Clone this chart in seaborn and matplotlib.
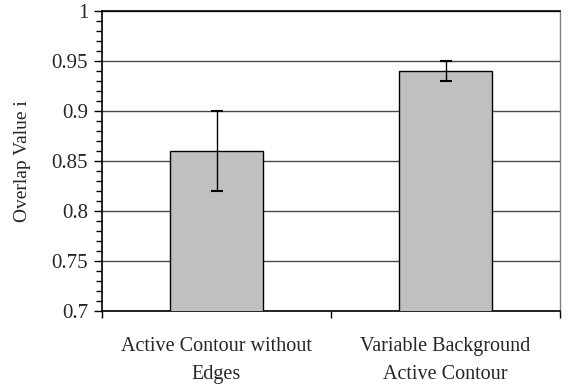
import matplotlib
matplotlib.use("Agg")
import matplotlib.pyplot as plt
import matplotlib.ticker as mticker
import pandas as pd
import seaborn as sns

methods = ["Active Contour without\nEdges", "Variable Background\nActive Contour"]
overlap = [0.86, 0.94]
err_low = [0.04, 0.01]
err_high = [0.04, 0.01]


def main():
    sns.set_style("white")
    plt.rcParams["font.family"] = ["Liberation Serif", "DejaVu Serif"]

    df = pd.DataFrame({"method": methods, "overlap": overlap})

    fig = plt.figure(figsize=(5.69, 3.87), dpi=100)
    ax = fig.add_axes([102 / 569, 1 - 311 / 387, 458 / 569, 300 / 387])

    sns.barplot(df, x="method", y="overlap", color="#c0c0c0", edgecolor="black",
                linewidth=1.0, width=0.405, errorbar=None, saturation=1, ax=ax, zorder=3)
    ax.errorbar(range(len(methods)), overlap, yerr=[err_low, err_high], fmt="none",
                ecolor="black", elinewidth=1.0, capsize=4.3, capthick=1.5, zorder=4)

    ax.set_ylim(0.7, 1.0)
    ax.set_xlim(-0.5, 1.5)
    ax.yaxis.set_major_locator(mticker.MultipleLocator(0.05))
    ax.yaxis.set_minor_locator(mticker.MultipleLocator(0.01))
    ax.yaxis.set_major_formatter(mticker.FuncFormatter(lambda v, p: f"{v:g}"))
    ax.yaxis.grid(True, which="major", color="#4a4a4a", linewidth=1.0, zorder=0)
    ax.set_axisbelow(True)

    ax.xaxis.set_minor_locator(mticker.FixedLocator([-0.5, 0.5, 1.5]))
    ax.tick_params(axis="x", which="major", length=0, pad=19, labelsize=14.5)
    for lbl in ax.get_xticklabels():
        lbl.set_linespacing(1.6)
    ax.tick_params(axis="x", which="minor", length=5, width=1, color="black", direction="out", bottom=True)
    ax.tick_params(axis="y", which="major", length=6, width=1, color="black", direction="out",
                   left=True, labelsize=15, pad=4)
    ax.tick_params(axis="y", which="minor", length=4, width=1, color="black", direction="out", left=True)

    for side in ["left", "bottom", "top"]:
        ax.spines[side].set_color("black")
        ax.spines[side].set_linewidth(1.2)
    ax.spines["right"].set_color("#808080")
    ax.spines["right"].set_linewidth(1.0)

    ax.set_xlabel("")
    ax.set_ylabel("Overlap Value i", fontsize=14, labelpad=15)

    fig.savefig("out.png", dpi=100)


if __name__ == "__main__":
    main()
